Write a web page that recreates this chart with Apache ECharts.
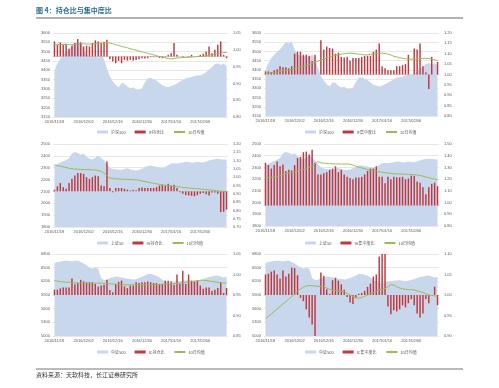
<!DOCTYPE html>
<html><head><meta charset="utf-8">
<script src="https://cdn.jsdelivr.net/npm/echarts@6/dist/echarts.min.js"></script>
<style>html,body{margin:0;padding:0;background:#fff;}#c{width:499px;height:388px;}</style>
</head><body><div id="c"></div>
<script>
const dates = ['2016/11/18','2016/11/21','2016/11/22','2016/11/23','2016/11/24','2016/11/25','2016/11/28','2016/11/29','2016/11/30','2016/12/01','2016/12/02','2016/12/05','2016/12/06','2016/12/07','2016/12/08','2016/12/09','2016/12/12','2016/12/13','2016/12/14','2016/12/15','2016/12/16','2016/12/19','2016/12/20','2016/12/21','2016/12/22','2016/12/23','2016/12/26','2016/12/27','2016/12/28','2016/12/29','2016/12/30','2017/01/03','2017/01/04','2017/01/05','2017/01/06','2017/01/09','2017/01/10','2017/01/11','2017/01/12','2017/01/13','2017/01/16','2017/01/17','2017/01/18','2017/01/19','2017/01/20','2017/01/23','2017/01/24','2017/01/25','2017/01/26','2017/02/03','2017/02/06','2017/02/07','2017/02/08','2017/02/09','2017/02/10','2017/02/13','2017/02/14','2017/02/15','2017/02/16','2017/02/17'];

const hs300 = [3400,3436,3463,3482,3500,3512,3531,3551,3545,3555, 3510,3485,3476,3472,3478,3466,3484,3460,3410,3365, 3342,3322,3310,3332,3330,3314,3304,3308,3298,3296, 3305,3335,3358,3360,3352,3345,3332,3320,3314,3310, 3316,3322,3330,3340,3348,3357,3360,3364,3370,3374, 3372,3380,3390,3405,3418,3432,3438,3428,3436,3424];
const sz50 = [2320,2330,2345,2355,2365,2380,2420,2432,2425,2410, 2420,2395,2375,2370,2385,2400,2385,2360,2330,2300, 2290,2287,2283,2282,2290,2295,2285,2280,2276,2282, 2292,2305,2315,2318,2312,2308,2300,2298,2305,2320, 2335,2338,2336,2340,2345,2350,2348,2342,2345,2350, 2346,2345,2352,2360,2368,2372,2375,2372,2370,2368];
const zz500 = [6602,6624,6638,6646,6653,6646,6638,6653,6660,6624, 6594,6550,6506,6477,6506,6477,6271,6227,6234,6271, 6286,6308,6300,6286,6271,6256,6249,6242,6249,6271, 6293,6330,6359,6359,6344,6322,6286,6234,6198,6168, 6161,6183,6198,6198,6212,6220,6227,6212,6198,6212, 6227,6249,6271,6293,6308,6322,6330,6308,6286,6300];

const ifHold = [1.025,1.015,1.022,1.015,1.018,1.003,1.012,1.020,1.032,1.022, 1.010,1.012,1.010,1.020,1.028,1.025,1.020,1.024,1.030,0.972, 0.965,0.960,0.967,0.960,0.970,0.968,0.970,0.968,0.970,0.972, 0.975,0.974,0.975,0.978,0.978,0.978,0.976,0.975,0.978,0.985, 0.990,1.020,0.985,0.980,0.978,0.980,0.978,0.985,0.980,0.982, 0.985,0.988,0.995,1.010,0.990,1.000,1.015,1.025,0.985,0.975];
const ifHoldMA = [1.015,1.015,1.016,1.016,1.016,1.015,1.015,1.016,1.017,1.018, 1.018,1.017,1.017,1.017,1.018,1.019,1.020,1.021,1.022,1.020, 1.018,1.015,1.013,1.010,1.008,1.006,1.003,1.001,0.999,0.996, 0.994,0.992,0.989,0.987,0.985,0.982,0.980,0.978,0.976,0.974, 0.973,0.974,0.976,0.976,0.977,0.977,0.978,0.978,0.979,0.980, 0.980,0.981,0.982,0.984,0.985,0.987,0.989,0.990,0.992,0.992];
const ifConc = [1.015,1.015,1.012,1.020,1.025,1.040,1.035,1.035,1.030,1.040, 1.100,1.110,1.110,1.095,1.095,1.090,1.065,1.095,1.000,1.165, 1.120,1.135,1.128,1.125,1.100,1.105,1.085,1.082,1.085,1.068, 1.080,1.080,1.080,1.085,1.090,1.090,1.090,1.110,1.120,1.150, 1.040,1.030,1.020,1.020,1.020,1.040,1.040,1.045,1.050,1.095, 1.000,1.125,1.120,1.150,1.040,1.010,0.930,1.085,1.000,1.060];
const ifConcMA = [1.008,1.008,1.009,1.010,1.012,1.015,1.018,1.020,1.022,1.026, 1.030,1.033,1.036,1.040,1.044,1.049,1.053,1.058,1.064,1.070, 1.075,1.080,1.085,1.088,1.092,1.096,1.098,1.100,1.102,1.103, 1.102,1.100,1.098,1.096,1.095,1.095,1.097,1.099,1.100,1.102, 1.103,1.101,1.098,1.094,1.088,1.085,1.081,1.078,1.076,1.074, 1.074,1.074,1.075,1.077,1.078,1.078,1.077,1.074,1.071,1.067];
const ihHold = [0.925,0.945,0.965,0.940,0.930,0.965,0.990,1.010,1.025,1.025, 1.020,1.000,0.990,1.000,1.010,1.005,0.950,0.945,1.095,0.935, 0.910,0.935,0.935,0.935,0.930,0.925,0.920,0.925,0.922,0.935, 0.938,0.935,0.935,0.935,0.935,0.940,0.950,0.955,0.950,0.960, 0.950,0.955,0.935,0.910,0.900,0.892,0.890,0.888,0.885,0.892, 0.900,0.905,0.898,0.890,0.908,0.908,0.900,0.790,0.792,0.805];
const ihHoldMA = [1.075,1.070,1.066,1.062,1.058,1.054,1.051,1.049,1.048,1.047, 1.046,1.046,1.045,1.044,1.043,1.040,1.035,1.025,1.010,0.995, 0.992,0.990,0.989,0.988,0.987,0.987,0.986,0.985,0.984,0.982, 0.978,0.974,0.970,0.966,0.963,0.960,0.957,0.954,0.951,0.949, 0.947,0.945,0.943,0.941,0.939,0.937,0.935,0.933,0.932,0.930, 0.929,0.927,0.926,0.924,0.922,0.920,0.918,0.916,0.914,0.913];
const ihConc = [1.340,1.320,1.290,1.320,1.350,1.310,1.325,1.270,1.280,1.275, 1.320,1.380,1.390,1.430,1.435,1.410,1.450,1.340,1.240,1.240, 1.250,1.260,1.280,1.290,1.310,1.260,1.280,1.240,1.220,1.210, 1.200,1.215,1.215,1.220,1.240,1.270,1.290,1.290,1.310,1.220, 1.220,1.165,1.220,1.200,1.220,1.215,1.215,1.220,1.200,1.205, 1.230,1.230,1.180,1.170,1.130,1.070,1.130,1.160,1.170,1.140];
const ihConcMA = [1.210,1.213,1.216,1.219,1.222,1.230,1.238,1.247,1.253,1.258, 1.262,1.268,1.276,1.283,1.288,1.298,1.310,1.330,1.350,1.340, 1.336,1.334,1.332,1.331,1.330,1.330,1.329,1.329,1.329,1.328, 1.320,1.310,1.302,1.295,1.290,1.282,1.275,1.270,1.266,1.262, 1.258,1.255,1.252,1.249,1.246,1.245,1.244,1.243,1.242,1.241, 1.240,1.238,1.236,1.232,1.225,1.218,1.212,1.205,1.200,1.195];
const icHold = [0.963,0.963,0.966,0.968,0.968,0.968,0.990,0.976,0.980,0.987, 0.983,0.981,0.981,0.981,0.977,0.971,0.973,0.975,0.987,0.962, 0.957,0.977,0.982,0.985,0.971,0.967,0.973,0.973,0.981,0.979, 0.981,0.981,0.983,0.981,0.979,0.979,0.977,0.977,0.985,0.985, 0.983,0.975,1.000,0.977,1.009,0.977,1.000,0.985,0.983,0.985, 0.973,0.965,0.968,0.968,0.960,0.963,0.967,0.981,0.955,0.967];
const icHoldMA = [0.985,0.984,0.983,0.982,0.981,0.981,0.980,0.980,0.979,0.979, 0.979,0.979,0.979,0.979,0.979,0.979,0.979,0.978,0.978,0.977, 0.977,0.976,0.976,0.975,0.975,0.975,0.975,0.975,0.975,0.975, 0.975,0.975,0.975,0.975,0.975,0.975,0.975,0.976,0.976,0.977, 0.977,0.978,0.978,0.979,0.980,0.981,0.982,0.983,0.984,0.985, 0.986,0.986,0.985,0.984,0.983,0.982,0.981,0.980,0.979,0.979];
const icConc = [1.050,1.052,1.057,1.060,1.050,1.040,1.060,1.045,1.052,1.067, 1.066,1.048,0.993,0.985,0.965,0.945,0.928,0.900,1.000,1.055, 1.047,1.014,1.003,1.036,1.042,1.035,1.026,1.013,0.995,0.982, 0.978,0.992,1.003,1.005,1.010,1.020,1.028,1.045,1.050,1.094, 1.100,1.100,0.972,0.953,0.963,0.960,0.965,0.975,0.970,0.980, 0.990,0.975,0.955,0.945,0.955,0.990,0.980,1.000,1.020,0.975];
const icConcMA = [0.942,0.948,0.954,0.960,0.966,0.972,0.978,0.984,0.990,0.996, 1.002,1.010,1.015,1.019,1.022,1.023,1.023,1.022,1.021,1.021, 1.020,1.017,1.014,1.012,1.011,1.010,1.009,1.008,1.004,1.000, 0.997,0.994,0.992,0.994,0.997,1.000,1.003,1.006,1.009,1.012, 1.014,1.016,1.020,1.026,1.024,1.020,1.017,1.015,1.014,1.013, 1.013,1.012,1.010,1.008,1.006,1.003,1.000,0.999,0.998,0.996];

const indexNames = ['沪深300','沪深300','上证50','上证50','中证500','中证500'];
const barNames = ['IF持仓比','IF集中度比','IH持仓比','IH集中度比','IC持仓比','IC集中度比'];
const lineName = '10日均值';

const panels = [
  {g:[53,33,175,84],  idx:hs300, bar:ifHold, ma:ifHoldMA, L:[3150,3600,50],  R:[0.80,1.05,0.05], base:0.98,  lg:[97,130]},
  {g:[264,33,175,83], idx:hs300, bar:ifConc, ma:ifConcMA, L:[3150,3600,50],  R:[0.80,1.20,0.05], base:1.00,  lg:[305,130]},
  {g:[53,144,175,83], idx:sz50,  bar:ihHold, ma:ihHoldMA, L:[1800,2500,100], R:[0.70,1.20,0.05], base:0.915, lg:[97,241]},
  {g:[264,144,175,82],idx:sz50,  bar:ihConc, ma:ihConcMA, L:[1800,2500,100], R:[0.80,1.50,0.10], base:0.975, lg:[305,241]},
  {g:[53,254,175,82], idx:zz500, bar:icHold, ma:icHoldMA, L:[5000,6800,300], R:[0.85,1.05,0.05], base:0.95,  lg:[97,350]},
  {g:[264,254,175,82],idx:zz500, bar:icConc, ma:icConcMA, L:[5000,6800,300], R:[0.90,1.10,0.05], base:1.00,  lg:[305,350]}
];

const AREA='#c8d7ec', BAR='#c0393f', LINE='#9bbb59', TXT='#595959', GRID='#d9d9d9';
const numFont = 'Liberation Sans, Arial, sans-serif';
const cjkFont = 'Noto Sans CJK SC, sans-serif';

const option = {animation:false, grid:[], xAxis:[], yAxis:[], series:[], legend:[], graphic:[]};
panels.forEach((p,k)=>{
  option.grid.push({left:p.g[0], top:p.g[1], width:p.g[2], height:p.g[3]});
  option.xAxis.push({type:'category', gridIndex:k, data:dates, boundaryGap:true,
    axisTick:{show:false}, axisLine:{lineStyle:{color:GRID}},
    axisLabel:{interval:9, fontSize:4, color:TXT, margin:3, fontFamily:numFont}});
  option.yAxis.push({type:'value', gridIndex:k, position:'left', min:p.L[0], max:p.L[1], interval:p.L[2],
    axisLine:{show:false}, axisTick:{show:false}, splitLine:{lineStyle:{color:GRID, width:0.6}},
    axisLabel:{fontSize:4, color:TXT, margin:3, fontFamily:numFont, formatter:v=>String(Math.round(v))}});
  option.yAxis.push({type:'value', gridIndex:k, position:'right', min:p.R[0], max:p.R[1], interval:p.R[2],
    axisLine:{show:false}, axisTick:{show:false}, splitLine:{show:false},
    axisLabel:{fontSize:4, color:TXT, margin:5, fontFamily:numFont, formatter:v=>v.toFixed(2)}});
  option.yAxis.push({type:'value', gridIndex:k, show:false, min:p.R[0]-p.base, max:p.R[1]-p.base,
    splitLine:{show:false}});
  option.series.push({name:indexNames[k], type:'line', xAxisIndex:k, yAxisIndex:3*k, data:p.idx,
    symbol:'none', lineStyle:{width:0}, itemStyle:{color:AREA}, areaStyle:{color:AREA, opacity:1}, z:1});
  option.series.push({name:barNames[k], type:'bar', xAxisIndex:k, yAxisIndex:3*k+2,
    data:p.bar.map(v=>+(v-p.base).toFixed(4)), barWidth:'50%', itemStyle:{color:BAR}, z:2});
  option.series.push({name:lineName, type:'line', xAxisIndex:k, yAxisIndex:3*k+1, data:p.ma,
    symbol:'none', lineStyle:{width:1, color:LINE}, itemStyle:{color:LINE}, z:3});
  option.legend.push({left:p.lg[0], top:p.lg[1], itemWidth:11, itemHeight:3, itemGap:9, padding:0,
    selectedMode:false, textStyle:{fontSize:4, color:TXT, fontFamily:cjkFont, padding:[0,0,0,-2]},
    data:[{name:indexNames[k], icon:'rect'}, {name:barNames[k], icon:'rect'}, {name:lineName}]});
});
option.graphic = [
  {type:'text', left:36, top:7, style:{text:'图 4：持仓比与集中度比', fontSize:7, fontWeight:'bold', fill:'#2a6f8c', fontFamily:cjkFont}},
  {type:'line', shape:{x1:36, y1:18, x2:463, y2:18}, style:{stroke:'#666', lineWidth:1}},
  {type:'line', shape:{x1:36, y1:369, x2:463, y2:369}, style:{stroke:'#777', lineWidth:1}},
  {type:'text', left:36, top:372, style:{text:'资料来源：天软科技，长江证券研究所', fontSize:6, fill:'#333', fontFamily:cjkFont}}
];
const chart = echarts.init(document.getElementById('c'), null, {renderer:'canvas'});
chart.setOption(option);
</script></body></html>
